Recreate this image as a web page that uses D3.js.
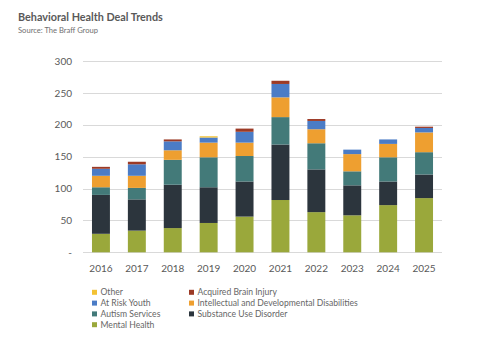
<!DOCTYPE html>
<html>
<head>
<meta charset="utf-8">
<script src="https://cdn.jsdelivr.net/npm/d3@7"></script>
<style>
  body { margin: 0; background: #fff; }
  svg { font-family: Lato, 'Open Sans', sans-serif; }
</style>
</head>
<body>
<div id="chart"></div>
<script>
const years = ['2016', '2017', '2018', '2019', '2020', '2021', '2022', '2023', '2024', '2025'];
const mentalHealth = [29, 34, 38, 46, 56, 82, 63, 58, 74, 85];
const substanceUse = [61, 49, 68, 56, 55, 87, 67, 47, 37, 37];
const autism = [12, 18, 39, 47, 40, 43, 41, 22, 38, 35];
const idd = [18, 19, 15, 23, 21, 31, 22, 27, 21, 31];
const atRiskYouth = [11, 18, 14, 8, 17, 21, 13, 7, 7, 7];
const brainInjury = [3, 4, 3, 0, 5, 5, 3, 0, 0, 2];
const other = [0, 0, 0, 2, 0, 0, 0, 0, 0, 0];
const yTicks = [0, 50, 100, 150, 200, 250, 300];

// stack order, bottom to top
const series = [
  {key: 'Mental Health', values: mentalHealth, color: '#9aa83b'},
  {key: 'Substance Use Disorder', values: substanceUse, color: '#2c353d'},
  {key: 'Autism Services', values: autism, color: '#437a79'},
  {key: 'Intellectual and Developmental Disabilities', values: idd, color: '#ee9f30'},
  {key: 'At Risk Youth', values: atRiskYouth, color: '#4b7cc6'},
  {key: 'Acquired Brain Injury', values: brainInjury, color: '#9c3a26'},
  {key: 'Other', values: other, color: '#f3c234'}
];

const width = 479, height = 342;
const margin = {top: 61, left: 83, right: 37, bottom: 90};

const svg = d3.select('#chart').append('svg')
  .attr('width', width)
  .attr('height', height);

svg.append('text')
  .attr('x', 18).attr('y', 20.5)
  .attr('font-size', 10.8).attr('font-weight', 700)
  .attr('fill', '#595959')
  .text('Behavioral Health Deal Trends');
svg.append('text')
  .attr('x', 18).attr('y', 33)
  .attr('font-size', 7.6)
  .attr('fill', '#707070')
  .text('Source: The Braff Group');

const rows = years.map((y, i) => {
  const r = {year: y};
  series.forEach(s => { r[s.key] = s.values[i]; });
  return r;
});
const stacked = d3.stack().keys(series.map(s => s.key))(rows);

const x = d3.scaleBand()
  .domain(years)
  .range([margin.left, width - margin.right])
  .paddingInner(0.5)
  .paddingOuter(0.25);
const y = d3.scaleLinear()
  .domain([0, 300])
  .range([252.3, margin.top]);

// gridlines
svg.append('g')
  .selectAll('line')
  .data(yTicks)
  .join('line')
  .attr('x1', margin.left).attr('x2', width - margin.right)
  .attr('y1', d => Math.round(y(d)) + 0.5).attr('y2', d => Math.round(y(d)) + 0.5)
  .attr('stroke', '#d9d9d9');

const yAxis = svg.append('g')
  .attr('transform', `translate(${margin.left - 10},0)`)
  .call(d3.axisLeft(y).tickValues(yTicks).tickSize(0)
    .tickFormat(d => d === 0 ? '-' : d));
yAxis.select('.domain').remove();
yAxis.selectAll('text')
  .attr('font-family', 'Lato, sans-serif')
  .attr('font-size', 10)
  .attr('fill', '#595959')
  .attr('x', -1);

const xAxis = svg.append('g')
  .attr('transform', 'translate(0,252.3)')
  .call(d3.axisBottom(x).tickSize(0));
xAxis.select('.domain').remove();
xAxis.selectAll('text')
  .attr('font-family', 'Lato, sans-serif')
  .attr('font-size', 10)
  .attr('fill', '#595959')
  .attr('dy', '1.65em');

svg.append('g')
  .selectAll('g')
  .data(stacked)
  .join('g')
  .attr('fill', (d, i) => series[i].color)
  .selectAll('rect')
  .data(d => d)
  .join('rect')
  .attr('x', d => x(d.data.year))
  .attr('y', d => y(d[1]))
  .attr('width', x.bandwidth())
  .attr('height', d => y(d[0]) - y(d[1]));

// legend, two columns, reverse stack order
const legendItems = series.slice().reverse();
const legend = svg.append('g')
  .selectAll('g')
  .data(legendItems)
  .join('g')
  .attr('transform', (d, i) => `translate(${i % 2 === 0 ? 92 : 189},${292.3 + Math.floor(i / 2) * 10.8})`);
legend.append('rect')
  .attr('x', 0).attr('y', -2.5)
  .attr('width', 5).attr('height', 5)
  .attr('fill', d => d.color);
legend.append('text')
  .attr('x', 8.5).attr('y', 0)
  .attr('dy', '0.35em')
  .attr('font-size', 8.6)
  .attr('fill', '#666')
  .text(d => d.key);
</script>
</body>
</html>
